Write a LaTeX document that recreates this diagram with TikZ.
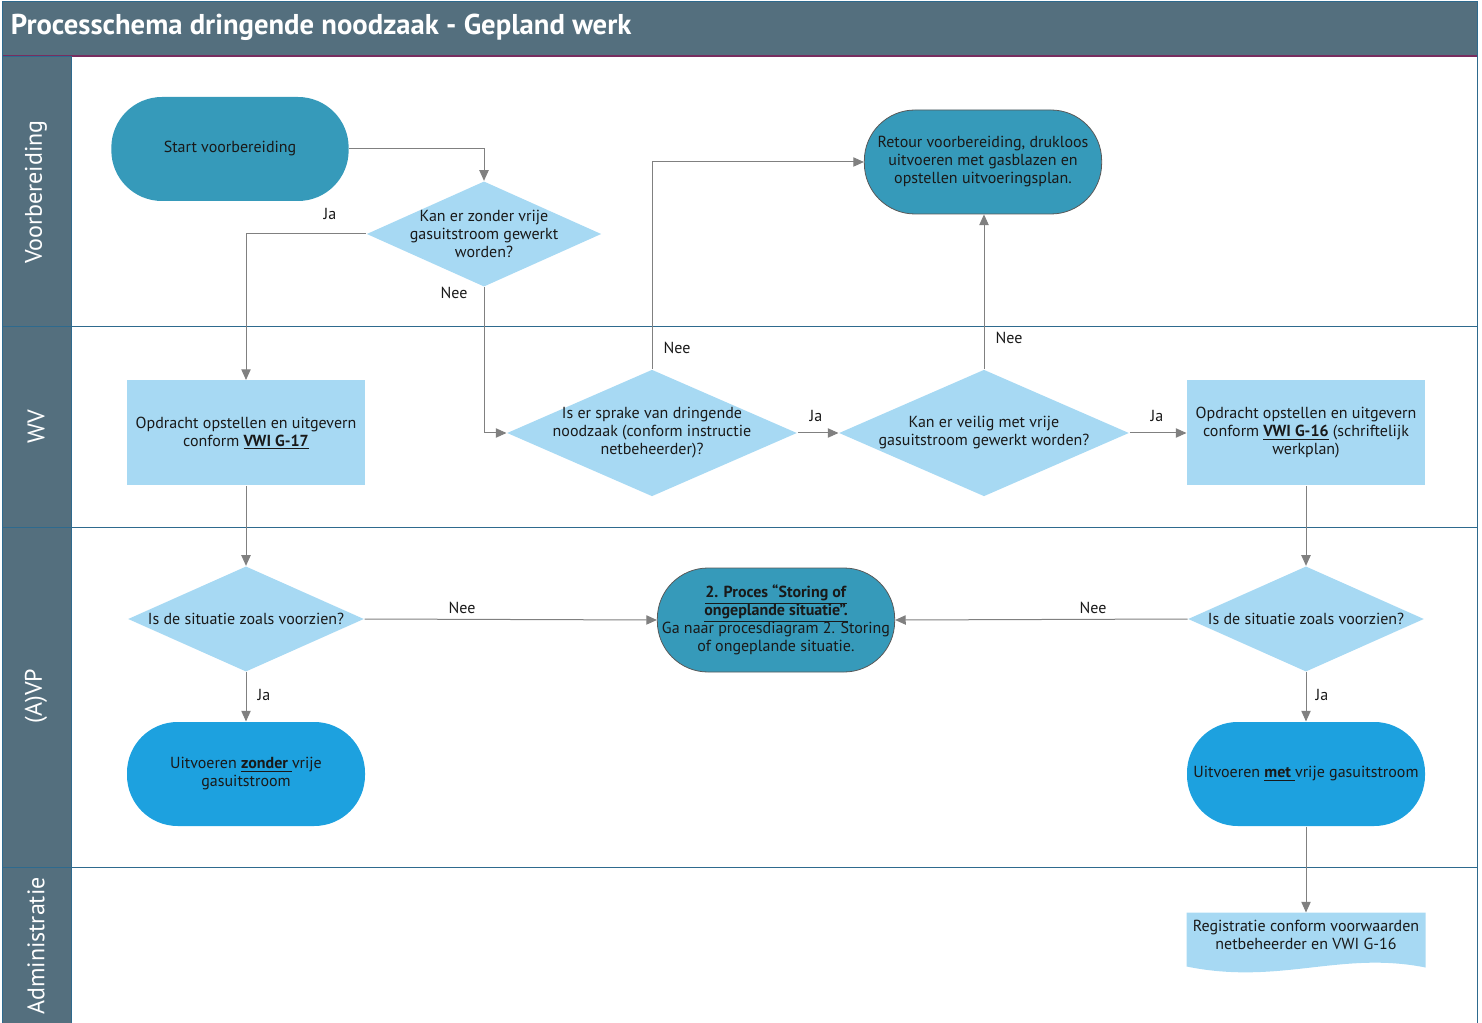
\documentclass[tikz,border=0pt]{standalone}
\usepackage{fontspec}
\setmainfont{PT Sans}
\usetikzlibrary{shapes.geometric,arrows.meta,calc}
\definecolor{lanegrey}{RGB}{84,111,126}
\definecolor{laneline}{RGB}{46,106,142}
\definecolor{titleline}{RGB}{120,45,95}
\definecolor{termblue}{RGB}{54,154,186}
\definecolor{actblue}{RGB}{29,161,223}
\definecolor{boxblue}{RGB}{167,217,243}
\definecolor{flowgrey}{RGB}{128,128,128}
\definecolor{txtdark}{RGB}{25,25,25}
\newcommand{\nodefont}{\fontsize{12}{13.5}\selectfont}
\newcommand{\lanefont}{\fontsize{18}{20}\selectfont}
\tikzset{every picture/.style={line width=0.75pt}}

\begin{document}
\begin{tikzpicture}[x=0.75pt,y=0.75pt,yscale=-1,xscale=1,
  every node/.style={font=\nodefont, text=txtdark},
  terminal/.style={fill=termblue, rounded corners=38pt, minimum width=178pt, minimum height=78pt, align=center},
  terminalline/.style={terminal, draw=black!65, line width=0.6pt},
  action/.style={fill=actblue, rounded corners=38pt, minimum width=178.5pt, minimum height=78pt, align=center},
  taskbox/.style={fill=boxblue, minimum width=178.5pt, minimum height=78.75pt, align=center, inner sep=0pt},
  decision/.style={diamond, fill=boxblue, inner sep=0pt},
  dtext/.style={align=center},
  flow/.style={draw=flowgrey, line width=0.75pt, -{Triangle[length=8pt,width=7pt]}},
  lanetext/.style={rotate=90, text=white, font=\lanefont},
  ]
\useasboundingbox (0,0) rectangle (1482,1023);

%Lanes and title bar
\fill[lanegrey] (2,2) rectangle (1477,56);
\draw[titleline, line width=1.2pt] (2,56) -- (1477,56);
\filldraw[fill=lanegrey, draw=laneline] (2,57) rectangle (71,1023);
\draw[laneline] (2,2) rectangle (1477,1023);
\draw[laneline] (2,327) -- (1477,327);
\draw[laneline] (2,527) -- (1477,527);
\draw[laneline] (2,867) -- (1477,867);

% Text Node
\node[anchor=west, text=white, font=\fontsize{21.5}{24}\selectfont\bfseries] (title) at (6,27) {Processchema dringende noodzaak - Gepland werk};
\node[lanetext] (laneVoor) at (36,192) {Voorbereiding};
\node[lanetext] (laneWV) at (36,427) {WV};
\node[lanetext] (laneAVP) at (36,696) {(A)VP};
\node[lanetext] (laneAdmin) at (36,946) {Administratie};

%Shapes: Voorbereiding
\node[terminal] (start) at (230,149) {Start voorbereiding};
\node[decision, minimum width=176pt, minimum height=79pt,
  label={[dtext]center:{Kan er zonder vrije\\gasuitstroom gewerkt\\worden?}}] (zonder) at (484,234) {};
\node[terminalline] (retour) at (983,162) {Retour voorbereiding, drukloos\\uitvoeren met gasblazen en\\opstellen uitvoeringsplan.};

%Shapes: WV
\node[taskbox] (g17) at (246,433) {Opdracht opstellen en uitgevern\\conform \underline{\textbf{VWI G-17}}};
\node[decision, minimum width=217.5pt, minimum height=95pt,
  label={[dtext]center:{Is er sprake van dringende\\noodzaak (conform instructie\\netbeheerder)?}}] (noodzaak) at (652,433) {};
\node[decision, minimum width=217.5pt, minimum height=95pt,
  label={[dtext]center:{Kan er veilig met vrije\\gasuitstroom gewerkt worden?}}] (veilig) at (984,433) {};
\node[taskbox] (g16) at (1306,433) {Opdracht opstellen en uitgevern\\conform \underline{\textbf{VWI G-16}} (schriftelijk\\werkplan)};

%Shapes: (A)VP
\node[decision, minimum width=177pt, minimum height=79pt,
  label={[dtext]center:{Is de situatie zoals voorzien?}}] (situatieL) at (246,619) {};
\node[terminalline] (storing) at (776,620) {\underline{\textbf{2. Proces ``Storing of}}\\\underline{\textbf{ongeplande situatie''.}}\\Ga naar procesdiagram 2. Storing\\of ongeplande situatie.};
\node[decision, minimum width=177pt, minimum height=79pt,
  label={[dtext]center:{Is de situatie zoals voorzien?}}] (situatieR) at (1306,619) {};
\node[action] (zonderUit) at (246,774) {Uitvoeren \underline{\textbf{zonder }}vrije\\gasuitstroom};
\node[action] (metUit) at (1306,774) {Uitvoeren \underline{\textbf{met }}vrije gasuitstroom};

%Shape: Document
\node[minimum width=178.5pt, minimum height=33pt, inner sep=0pt, align=center] (reg) at (1306,935) {};
\fill[boxblue] (reg.north west) -- (reg.north east) -- ($(reg.south east)+(0,10)$)
  .. controls +(-85,-17) and +(93,19) .. ($(reg.south west)+(0,9)$) -- cycle;
\node[align=center] (regtext) at (reg.center) {Registratie conform voorwaarden\\netbeheerder en VWI G-16};

%Connectors
\draw[flow] (start.east) -| (zonder.north);
\draw[flow] (zonder.west) -| (g17.north);
\draw[flow] (zonder.south) |- (noodzaak.west);
\draw[flow] (noodzaak.north) |- (retour.west);
\draw[flow] (noodzaak.east) -- (veilig.west);
\draw[flow] (veilig.north) -- (veilig.north |- retour.south);
\draw[flow] (veilig.east) -- (g16.west);
\draw[flow] (g17.south) -- (situatieL.north);
\draw[flow] (g16.south) -- (situatieR.north);
\draw[flow] (situatieL.east) -- (storing.west);
\draw[flow] (situatieR.west) -- (storing.east);
\draw[flow] (situatieL.south) -- (zonderUit.north);
\draw[flow] (situatieR.south) -- (metUit.north);
\draw[flow] (metUit.south) -- (reg.north);

% Text Node
\node (jaZonder) at (330,214) {Ja};
\node (neeZonder) at (454,293) {Nee};
\node (neeNood) at (677,348) {Nee};
\node (jaNood) at (816,416) {Ja};
\node (neeVeilig) at (1009,338) {Nee};
\node (jaVeilig) at (1157,416) {Ja};
\node (neeSitL) at (462,608) {Nee};
\node (neeSitR) at (1093,608) {Nee};
\node (jaSitL) at (264,695) {Ja};
\node (jaSitR) at (1322,695) {Ja};

\end{tikzpicture}
\end{document}
